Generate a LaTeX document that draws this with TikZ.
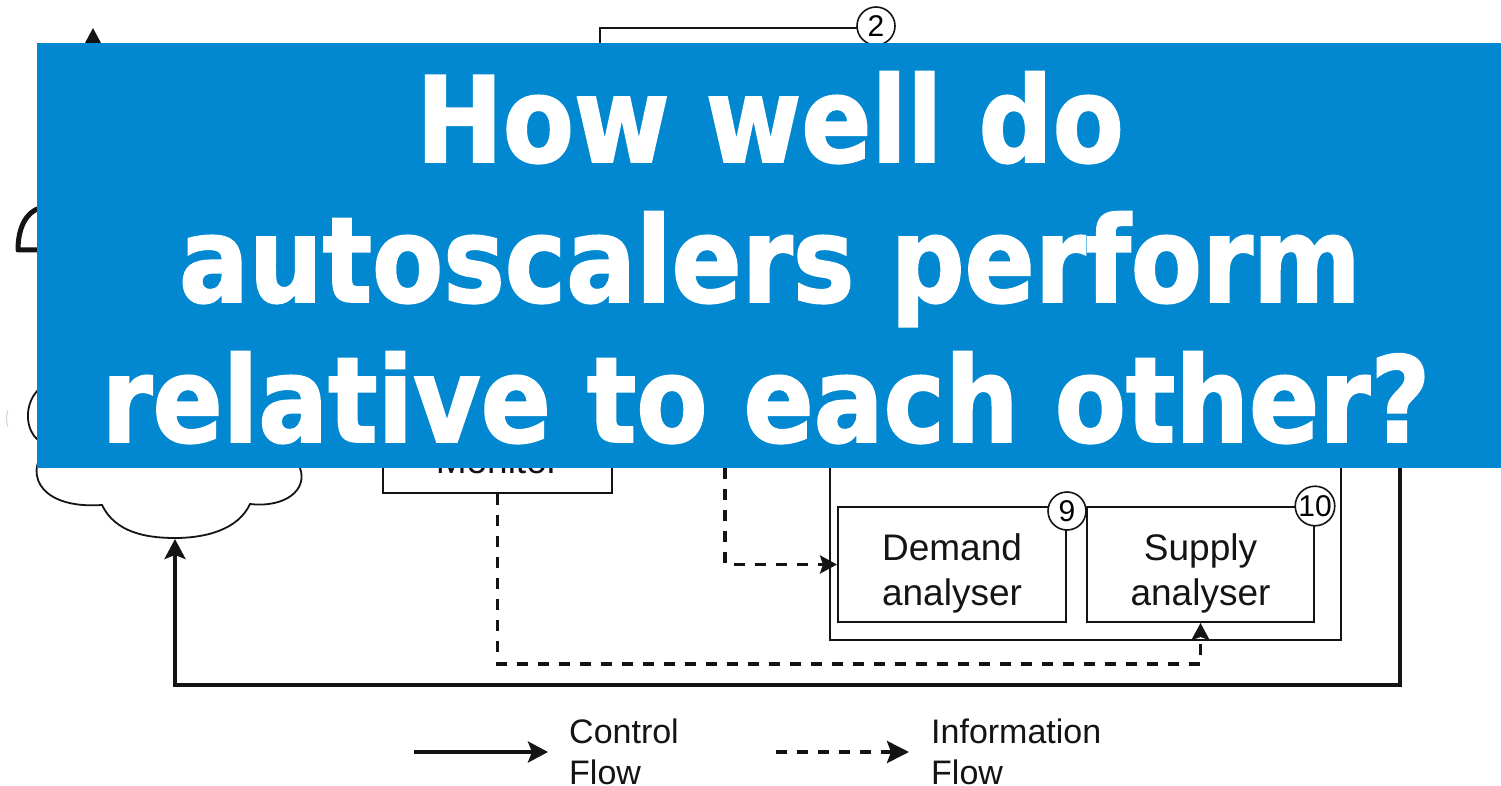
\documentclass[tikz,border=0pt]{standalone}
\usepackage{fontspec}
\setmainfont{Liberation Sans}
\newfontfamily\bannerfont{DejaVu Sans}[FakeStretch=0.87,FakeBold=1.5]
\usetikzlibrary{arrows.meta}
\definecolor{bannerblue}{HTML}{0288D1}
\definecolor{ink}{HTML}{141414}
\tikzset{
  box/.style={draw=ink, line width=2pt, fill=white, inner sep=0pt},
  ctrl/.style={draw=ink, line width=3.8pt, -{Stealth[length=20pt,width=21pt,inset=4pt]}},
  info/.style={draw=ink, line width=3.3pt, dash pattern=on 11pt off 10pt, -{Stealth[length=17pt,width=18pt,inset=3pt]}},
  lbl/.style={font=\fontsize{37}{45}\selectfont, text=ink, inner sep=0pt, anchor=base},
  numcirc/.style={circle, draw=ink, line width=1.6pt, fill=white, minimum size=38pt, inner sep=0pt, font=\fontsize{30}{30}\selectfont},
  legendtxt/.style={font=\fontsize{34}{40}\selectfont, text=ink, inner sep=0pt, anchor=base west},
  headline/.style={font=\bannerfont\bfseries\fontsize{119}{140}\selectfont, text=white, inner sep=0pt, anchor=base},
  cloudline/.style={draw=ink, line width=1.8pt, fill=white},
}
\begin{document}
\begin{tikzpicture}[x=1pt,y=-1pt]
\useasboundingbox (0,0) rectangle (1501,786);
\fill[white] (0,0) rectangle (1501,786);

% user figure (shoulder outline) and its upward request arrow
\draw[draw=ink, line width=5pt, line join=round] (40,208) .. controls (26,212) and (18,228) .. (18,250) -- (40,250);
\coordinate (usertail) at (93,120);
\coordinate (usertip) at (93,28);
\draw[ctrl] (usertail) -- (usertip);

% cloud (managed infrastructure)
\draw[cloudline] (102,505) .. controls (115,532) and (145,538) .. (175,538)
  .. controls (205,538) and (238,530) .. (250,504)
  .. controls (285,508) and (308,490) .. (300,468)
  .. controls (296,440) and (282,425) .. (262,422)
  .. controls (262,385) and (215,362) .. (180,380)
  .. controls (160,350) and (95,352) .. (85,385)
  .. controls (78,378) and (68,379) .. (61,381)
  .. controls (19,381) and (17,446) .. (55,446)
  .. controls (26,455) and (24,510) .. (102,505) -- cycle;
\coordinate (cloudbot) at (175,539);
\draw[gray!35, line width=1pt] (8,410) .. controls (6,415) and (6,422) .. (8,427);

% upper component with its step number
\node[box, minimum width=275pt, minimum height=272pt] (topbox) at (737.5,164) {};
\node[numcirc] (n2) at ([yshift=1pt]topbox.north east) {2};

% monitor
\node[box, minimum width=229pt, minimum height=108pt] (monitor) at (497.5,439) {};
\node[lbl] (montxt) at (497.5,473) {Monitor};

% analysis group
\node[box, minimum width=511pt, minimum height=310pt] (group) at (1085.5,485) {};
\node[box, minimum width=228pt, minimum height=115pt] (demand) at (952,564.5) {};
\node[box, minimum width=227pt, minimum height=115pt] (supply) at (1200.5,564.5) {};
\node[lbl] (demtxt1) at (952,560) {Demand};
\node[lbl] (demtxt2) at (952,605) {analyser};
\node[lbl] (suptxt1) at (1200.5,560) {Supply};
\node[lbl] (suptxt2) at (1200.5,605) {analyser};
\node[numcirc] (n9) at ([yshift=-5pt]demand.north east) {9};
\node[numcirc] (n10) at (supply.north east) {10};

% information flows
\coordinate (infotop) at (725,300);
\draw[info] (infotop) |- (demand.west);
\coordinate (infobase) at (850,664);
\draw[info] (monitor.south) |- (infobase) -| (supply.south);

% control flow back to the cloud
\coordinate (ctrltop) at (1400,300);
\coordinate (ctrlbase) at (800,685);
\draw[ctrl] (ctrltop) |- (ctrlbase) -| (cloudbot);

% legend
\coordinate (lc1) at (414,752);
\coordinate (lc2) at (548,752);
\draw[ctrl, line width=4.4pt] (lc1) -- (lc2);
\node[legendtxt] (lct1) at (569,743) {Control};
\node[legendtxt] (lct2) at (569,784) {Flow};
\coordinate (li1) at (776,752);
\coordinate (li2) at (909,752);
\draw[info, line width=3.8pt, dash pattern=on 11pt off 10pt, -{Stealth[length=22pt,width=22pt,inset=4pt]}] (li1) -- (li2);
\node[legendtxt] (lit1) at (931,743) {Information};
\node[legendtxt] (lit2) at (931,784) {Flow};

% headline banner
\fill[bannerblue] (37,43) rectangle (1501,468);
\node[headline] (h1) at (770,162) {How well do};
\node[headline] (h2) at (770,302) {autoscalers perform};
\node[headline] (h3) at (766,442) {relative to each other?};
\end{tikzpicture}
\end{document}
